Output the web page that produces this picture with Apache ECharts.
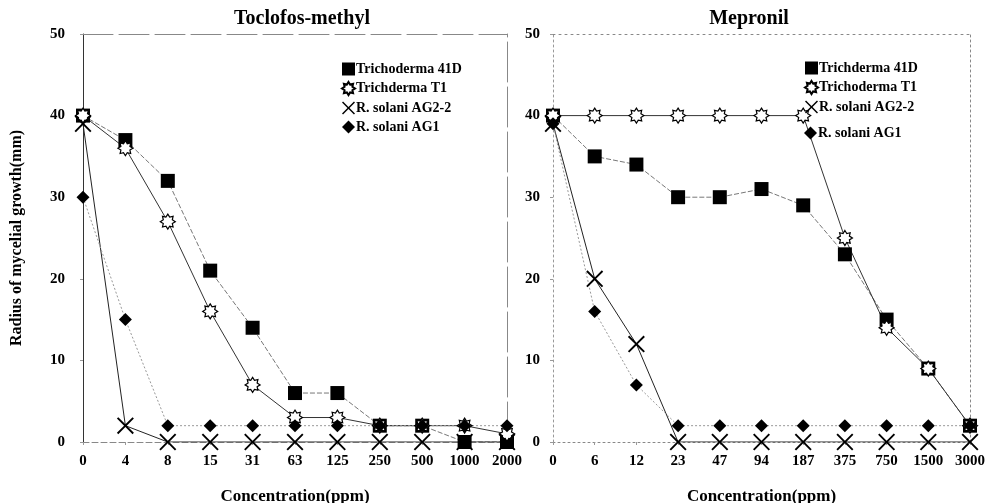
<!DOCTYPE html>
<html>
<head>
<meta charset="utf-8">
<script src="https://cdn.jsdelivr.net/npm/echarts@6/dist/echarts.min.js"></script>
<style>
  html, body { margin: 0; padding: 0; background: #fff; }
  #chart { width: 987px; height: 503px; }
</style>
</head>
<body>
<div id="chart"></div>
<script>
// x categories (ppm)
var toclofosDoses = ['0', '4', '8', '15', '31', '63', '125', '250', '500', '1000', '2000']
var mepronilDoses = ['0', '6', '12', '23', '47', '94', '187', '375', '750', '1500', '3000']

// Toclofos-methyl
var toc41D = [40, 37, 32, 21, 14, 6, 6, 2, 2, 0, 0]
var tocT1 = [40, 36, 27, 16, 7, 3, 3, 2, 2, 2, 1]
var tocAG22 = [39, 2, 0, 0, 0, 0, 0, 0, 0, 0, 0]
var tocAG1 = [30, 15, 2, 2, 2, 2, 2, 2, 2, 2, 2]

// Mepronil
var mep41D = [40, 35, 34, 30, 30, 31, 29, 23, 15, 9, 2]
var mepT1 = [40, 40, 40, 40, 40, 40, 40, 25, 14, 9, 2]
var mepAG22 = [39, 20, 12, 0, 0, 0, 0, 0, 0, 0, 0]
var mepAG1 = [39, 16, 7, 2, 2, 2, 2, 2, 2, 2, 2]

var yTicks = [0, 10, 20, 30, 40, 50]

var leftNames = ['Trichoderma 41D', 'Trichderma T1', 'R. solani AG2-2', 'R. solani AG1']
var rightNames = ['Trichderma 41D', 'Trichoderma T1', 'R. solani AG2-2', 'R. solani AG1']

var FONT = '"Liberation Serif", "DejaVu Serif", serif'

// 8-point sun symbol
function sunPath () {
  var pts = []
  for (var i = 0; i < 16; i++) {
    var r = i % 2 === 0 ? 10 : 6.5
    var a = Math.PI * i / 8 - Math.PI / 2
    pts.push((10 + r * Math.cos(a)).toFixed(2) + ',' + (10 + r * Math.sin(a)).toFixed(2))
  }
  return 'path://M' + pts.join('L') + 'Z'
}
var SUN = sunPath()
var CROSS = 'path://M0,0.8L0.8,0L5,4.2L9.2,0L10,0.8L5.8,5L10,9.2L9.2,10L5,5.8L0.8,10L0,9.2L4.2,5Z'
var ICONS = ['rect', SUN, CROSS, 'diamond']

var chart = echarts.init(document.getElementById('chart'))

function mkSeries (name, data, idx, kind, line) {
  var s = {
    name: name,
    type: 'line',
    data: data,
    xAxisIndex: idx,
    yAxisIndex: idx,
    animation: false,
    lineStyle: line,
    z: 3
  }
  if (kind === 'square') {
    s.symbol = 'rect'; s.symbolSize = 14
    s.itemStyle = { color: '#000' }
  } else if (kind === 'sun') {
    s.symbol = SUN; s.symbolSize = 15
    s.itemStyle = { color: '#fff', borderColor: '#000', borderWidth: 1.2 }
  } else if (kind === 'cross') {
    s.symbol = CROSS; s.symbolSize = 17
    s.itemStyle = { color: '#000' }
  } else {
    s.symbol = 'diamond'; s.symbolSize = 13
    s.itemStyle = { color: '#000' }
  }
  return s
}

var tickLabel = { fontFamily: FONT, fontWeight: 'bold', fontSize: 15, color: '#000' }

function bottomAxis (cats, idx, dashed) {
  return {
    type: 'category', gridIndex: idx, data: cats, boundaryGap: false,
    axisLine: { onZero: false, lineStyle: { color: '#888', type: dashed, width: 1 } },
    axisTick: { show: true, length: 3, lineStyle: { color: '#999' } },
    axisLabel: Object.assign({ margin: 12 }, tickLabel),
    name: 'Concentration(ppm)', nameLocation: 'middle', nameGap: 46,
    nameTextStyle: { fontFamily: FONT, fontWeight: 'bold', fontSize: 17, color: '#000' },
    splitLine: { show: false }
  }
}
function topAxis (cats, idx, dashed) {
  return {
    type: 'category', gridIndex: idx, data: cats, boundaryGap: false, position: 'top',
    axisLine: { onZero: false, lineStyle: { color: '#888', type: dashed, width: 1 } },
    axisTick: { show: false }, axisLabel: { show: false }, splitLine: { show: false }
  }
}
function leftAxis (idx, col, dashed, withName, margin) {
  var a = {
    type: 'value', gridIndex: idx, min: yTicks[0], max: yTicks[yTicks.length - 1], interval: 10,
    axisLine: { show: true, onZero: false, lineStyle: { color: col, type: dashed } },
    axisTick: { show: true, length: 3, lineStyle: { color: '#999' } },
    axisLabel: Object.assign({ margin: margin }, tickLabel),
    splitLine: { show: false }
  }
  if (withName) {
    a.name = 'Radius of mycelial growth(mm)'
    a.nameLocation = 'middle'
    a.nameGap = 58
    a.nameTextStyle = { fontFamily: FONT, fontWeight: 'bold', fontSize: 16, color: '#000' }
  }
  return a
}
function rightAxis (idx, dashed) {
  return {
    type: 'value', gridIndex: idx, min: 0, max: 50, interval: 10, position: 'right',
    axisLine: { show: true, onZero: false, lineStyle: { color: '#888', type: dashed } },
    axisTick: { show: false }, axisLabel: { show: false }, splitLine: { show: false }
  }
}

function legendFor (names, from, left, top) {
  return {
    data: names.map(function (n, i) { return { name: n, icon: ICONS[from + i] } }),
    orient: 'vertical', left: left, top: top,
    itemWidth: 13, itemHeight: 13, itemGap: 5,
    textStyle: { fontFamily: FONT, fontWeight: 'bold', fontSize: 14, color: '#000', padding: [0, 0, 0, -4] },
    selectedMode: false
  }
}

var option = {
  backgroundColor: '#fff',
  animation: false,
  title: [
    { text: 'Toclofos-methyl', left: 297, top: 4, textAlign: 'center',
      textStyle: { fontFamily: FONT, fontWeight: 'bold', fontSize: 20, color: '#000' } },
    { text: 'Mepronil', left: 744, top: 4, textAlign: 'center',
      textStyle: { fontFamily: FONT, fontWeight: 'bold', fontSize: 20, color: '#000' } }
  ],
  legend: [
    legendFor(leftNames, 0, 336, 57),
    legendFor(rightNames.slice(0, 3), 0, 799, 56),
    legendFor(rightNames.slice(3), 3, 799, 121)
  ],
  grid: [
    { left: 83, top: 34, width: 424, height: 408, outerBoundsMode: 'none' },
    { left: 553, top: 34, width: 417, height: 408, outerBoundsMode: 'none' }
  ],
  xAxis: [
    bottomAxis(toclofosDoses, 0, [6, 3]),
    topAxis(toclofosDoses, 0, [30, 6]),
    bottomAxis(mepronilDoses, 1, [2, 3]),
    topAxis(mepronilDoses, 1, [2, 4])
  ],
  yAxis: [
    leftAxis(0, '#333', 'solid', true, 18),
    rightAxis(0, [40, 5]),
    leftAxis(1, '#999', [2, 3], false, 13),
    rightAxis(1, [2, 3])
  ],
  series: [
    mkSeries(leftNames[0], toc41D, 0, 'square', { color: '#777', width: 1, type: [5, 2] }),
    mkSeries(leftNames[1], tocT1, 0, 'sun', { color: '#333', width: 1 }),
    mkSeries(leftNames[2], tocAG22, 0, 'cross', { color: '#222', width: 1 }),
    mkSeries(leftNames[3], tocAG1, 0, 'diamond', { color: '#999', width: 1, type: [2, 2] }),
    mkSeries(rightNames[0], mep41D, 2, 'square', { color: '#777', width: 1, type: [5, 2] }),
    mkSeries(rightNames[1], mepT1, 2, 'sun', { color: '#333', width: 1 }),
    mkSeries(rightNames[2], mepAG22, 2, 'cross', { color: '#222', width: 1 }),
    mkSeries(rightNames[3], mepAG1, 2, 'diamond', { color: '#999', width: 1, type: [2, 2] })
  ]
}

chart.setOption(option)
window.addEventListener('resize', function () { chart.resize() })
</script>
</body>
</html>
